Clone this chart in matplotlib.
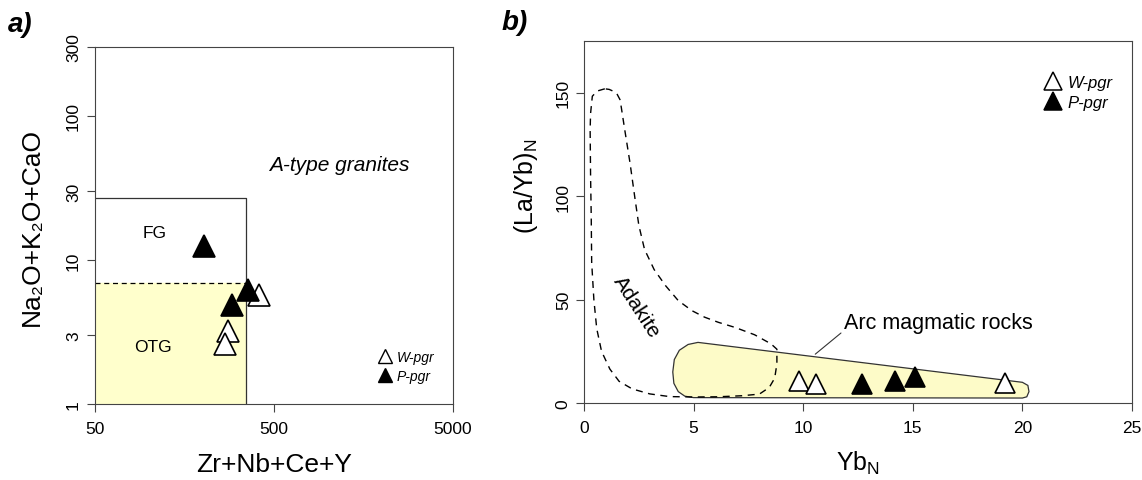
import numpy as np
import matplotlib
matplotlib.use("Agg")
import matplotlib.pyplot as plt
from matplotlib.lines import Line2D

plt.rcParams['font.family'] = ['Liberation Sans', 'DejaVu Sans']
plt.rcParams['mathtext.fontset'] = 'custom'
plt.rcParams['mathtext.rm'] = 'Liberation Sans'
plt.rcParams['mathtext.it'] = 'Liberation Sans:italic'

# a) Whalen-type diagram
w_a_x = [412, 277, 266]
w_a_y = [5.7, 3.2, 2.6]
p_a_x = [203, 358, 291]
p_a_y = [12.5, 6.2, 4.9]
fg_x = [50, 350, 350]
fg_y = [27, 27, 1]
otg_top = 6.9
a_xticks = [50, 500, 5000]
a_yticks = [1, 3, 10, 30, 100, 300]

# b) Yb_N vs (La/Yb)_N
w_b_x = [9.8, 10.6, 19.2]
w_b_y = [10.8, 9.0, 9.7]
p_b_x = [12.7, 14.2, 15.1]
p_b_y = [9.0, 10.6, 12.5]
b_xticks = [0, 5, 10, 15, 20, 25]
b_yticks = [0, 50, 100, 150]

# field outlines
arc_x = [5.2, 4.75, 4.35, 4.12, 4.05, 4.1, 4.3, 4.6, 5.0, 20.0, 20.2, 20.3, 20.25, 20.0, 5.2]
arc_y = [29.3, 28.3, 25.5, 21.0, 15.0, 9.5, 5.5, 3.3, 2.6, 2.4, 3.0, 5.5, 8.5, 10.0, 29.3]
adk_x = [0.95, 0.6, 0.38, 0.3, 0.28, 0.3, 0.33, 0.35, 0.45, 0.58, 0.8, 1.18, 1.6, 2.2, 3.0, 3.9,
         5.0, 6.1, 7.2, 8.0, 8.45, 8.7, 8.8, 8.8, 8.53, 7.78, 6.9, 6.13, 5.5, 4.93, 4.3, 3.73,
         3.2, 2.76, 2.5, 2.31, 2.1, 1.86, 1.7, 1.64, 1.5, 1.34, 1.15, 0.95]
adk_y = [151.9, 150.8, 148.3, 140, 132, 110, 90, 68, 50, 36, 25, 16.4, 10.5, 6.8, 4.4, 3.1,
         2.9, 3.0, 3.5, 4.3, 7.5, 12, 19, 26, 28.6, 33, 36.5, 39, 41.5, 44.6, 49.5, 56.6,
         64.5, 74.3, 86, 100, 116, 132, 143, 146.7, 149.5, 150.7, 151.6, 151.9]

W, H = 1142, 481
fig = plt.figure(figsize=(W / 100, H / 100), dpi=100)
ax_a = fig.add_axes([95 / W, (H - 405) / H, 358 / W, 357 / H])
ax_b = fig.add_axes([584 / W, (H - 404) / H, 548 / W, 362 / H])

spine_c = '#444444'
for ax in (ax_a, ax_b):
    for s in ax.spines.values():
        s.set_color(spine_c)
        s.set_linewidth(0.8)
    ax.tick_params(direction='out', length=6, width=0.8, color=spine_c, labelsize=12.5)

# ---- panel a
ax_a.set_xscale('log')
ax_a.set_yscale('log')
ax_a.set_xlim(50, 5000)
ax_a.set_ylim(1, 300)
ax_a.fill_between([fg_x[0], fg_x[1]], 1, otg_top, color='#ffffcc', zorder=0)
ax_a.plot(fg_x, fg_y, color='#333333', lw=0.9)
ax_a.plot([fg_x[0], fg_x[1]], [otg_top, otg_top], color='black', lw=0.9, ls=(0, (4, 3)))
ax_a.plot(w_a_x, w_a_y, ls='none', marker='^', ms=16, mfc='white', mec='black', mew=1.2)
ax_a.plot(p_a_x, p_a_y, ls='none', marker='^', ms=16, mfc='black', mec='black', mew=1.2)
ax_a.set_xticks(a_xticks)
ax_a.set_xticklabels([str(v) for v in a_xticks])
ax_a.set_yticks(a_yticks)
ax_a.set_yticklabels([str(v) for v in a_yticks], rotation=90, va='center')
ax_a.minorticks_off()
ax_a.tick_params(axis='x', pad=6)
ax_a.tick_params(axis='y', pad=4)
ax_a.set_xlabel('Zr+Nb+Ce+Y', fontsize=19, labelpad=12)
ax_a.set_ylabel('Na₂O+K₂O+CaO', fontsize=19)
ax_a.yaxis.set_label_coords(-0.142, 0.5)
ax_a.text(1153, 45.6, 'A-type granites', fontsize=15, style='italic', ha='center', va='center')
ax_a.text(107, 15.4, 'FG', fontsize=12.5, ha='center', va='center')
ax_a.text(106, 2.5, 'OTG', fontsize=12.5, ha='center', va='center')
h_a = [Line2D([], [], ls='none', marker='^', ms=10, mfc='white', mec='black', mew=1.0),
       Line2D([], [], ls='none', marker='^', ms=10, mfc='black', mec='black', mew=1.0)]
ax_a.legend(h_a, ['W-pgr', 'P-pgr'], loc='lower left', bbox_to_anchor=(0.77, 0.04),
            frameon=False, borderpad=0, handlelength=1.0, handletextpad=0.4,
            labelspacing=0.35, prop={'style': 'italic', 'size': 10})

# ---- panel b
ax_b.set_xlim(0, 25)
ax_b.set_ylim(0, 175)
ax_b.fill(arc_x, arc_y, facecolor='#fdfbc8', edgecolor='#333333', lw=0.9, zorder=1)
ax_b.plot(adk_x, adk_y, color='black', lw=1.0, ls=(0, (5, 4)), zorder=2)
ax_b.plot(w_b_x, w_b_y, ls='none', marker='^', ms=15, mfc='white', mec='black', mew=1.2, zorder=3)
ax_b.plot(p_b_x, p_b_y, ls='none', marker='^', ms=15, mfc='black', mec='black', mew=1.2, zorder=3)
ax_b.set_xticks(b_xticks)
ax_b.set_yticks(b_yticks)
ax_b.set_yticklabels([str(v) for v in b_yticks], rotation=90, va='center')
ax_b.tick_params(axis='x', pad=6)
ax_b.set_xlabel(r'$\mathrm{Yb}_\mathrm{N}$', fontsize=18, labelpad=10)
ax_b.set_ylabel(r'$\mathrm{(La/Yb)}_\mathrm{N}$', fontsize=18)
ax_b.yaxis.set_label_coords(-0.08, 0.60)
ax_b.text(2.4, 47, 'Adakite', fontsize=15, rotation=-57, ha='center', va='center')
ax_b.annotate('Arc magmatic rocks', xy=(10.55, 23.6), xytext=(11.85, 39),
              fontsize=15.5, ha='left', va='center',
              arrowprops=dict(arrowstyle='-', color='#333333', lw=0.8, shrinkA=0, shrinkB=0,
                              relpos=(0, 0.1)))
h_b = [Line2D([], [], ls='none', marker='^', ms=13, mfc='white', mec='black', mew=1.1),
       Line2D([], [], ls='none', marker='^', ms=13, mfc='black', mec='black', mew=1.1)]
ax_b.legend(h_b, ['W-pgr', 'P-pgr'], loc='upper left', bbox_to_anchor=(0.825, 0.93),
            frameon=False, borderpad=0, handlelength=1.0, handletextpad=0.4,
            labelspacing=0.3, prop={'style': 'italic', 'size': 12})

fig.text(8 / W, 1 - 25 / H, 'a)', fontsize=20, fontweight='bold', style='italic', va='center')
fig.text(502 / W, 1 - 23 / H, 'b)', fontsize=20, fontweight='bold', style='italic', va='center')

fig.savefig('out.png', dpi=100)
